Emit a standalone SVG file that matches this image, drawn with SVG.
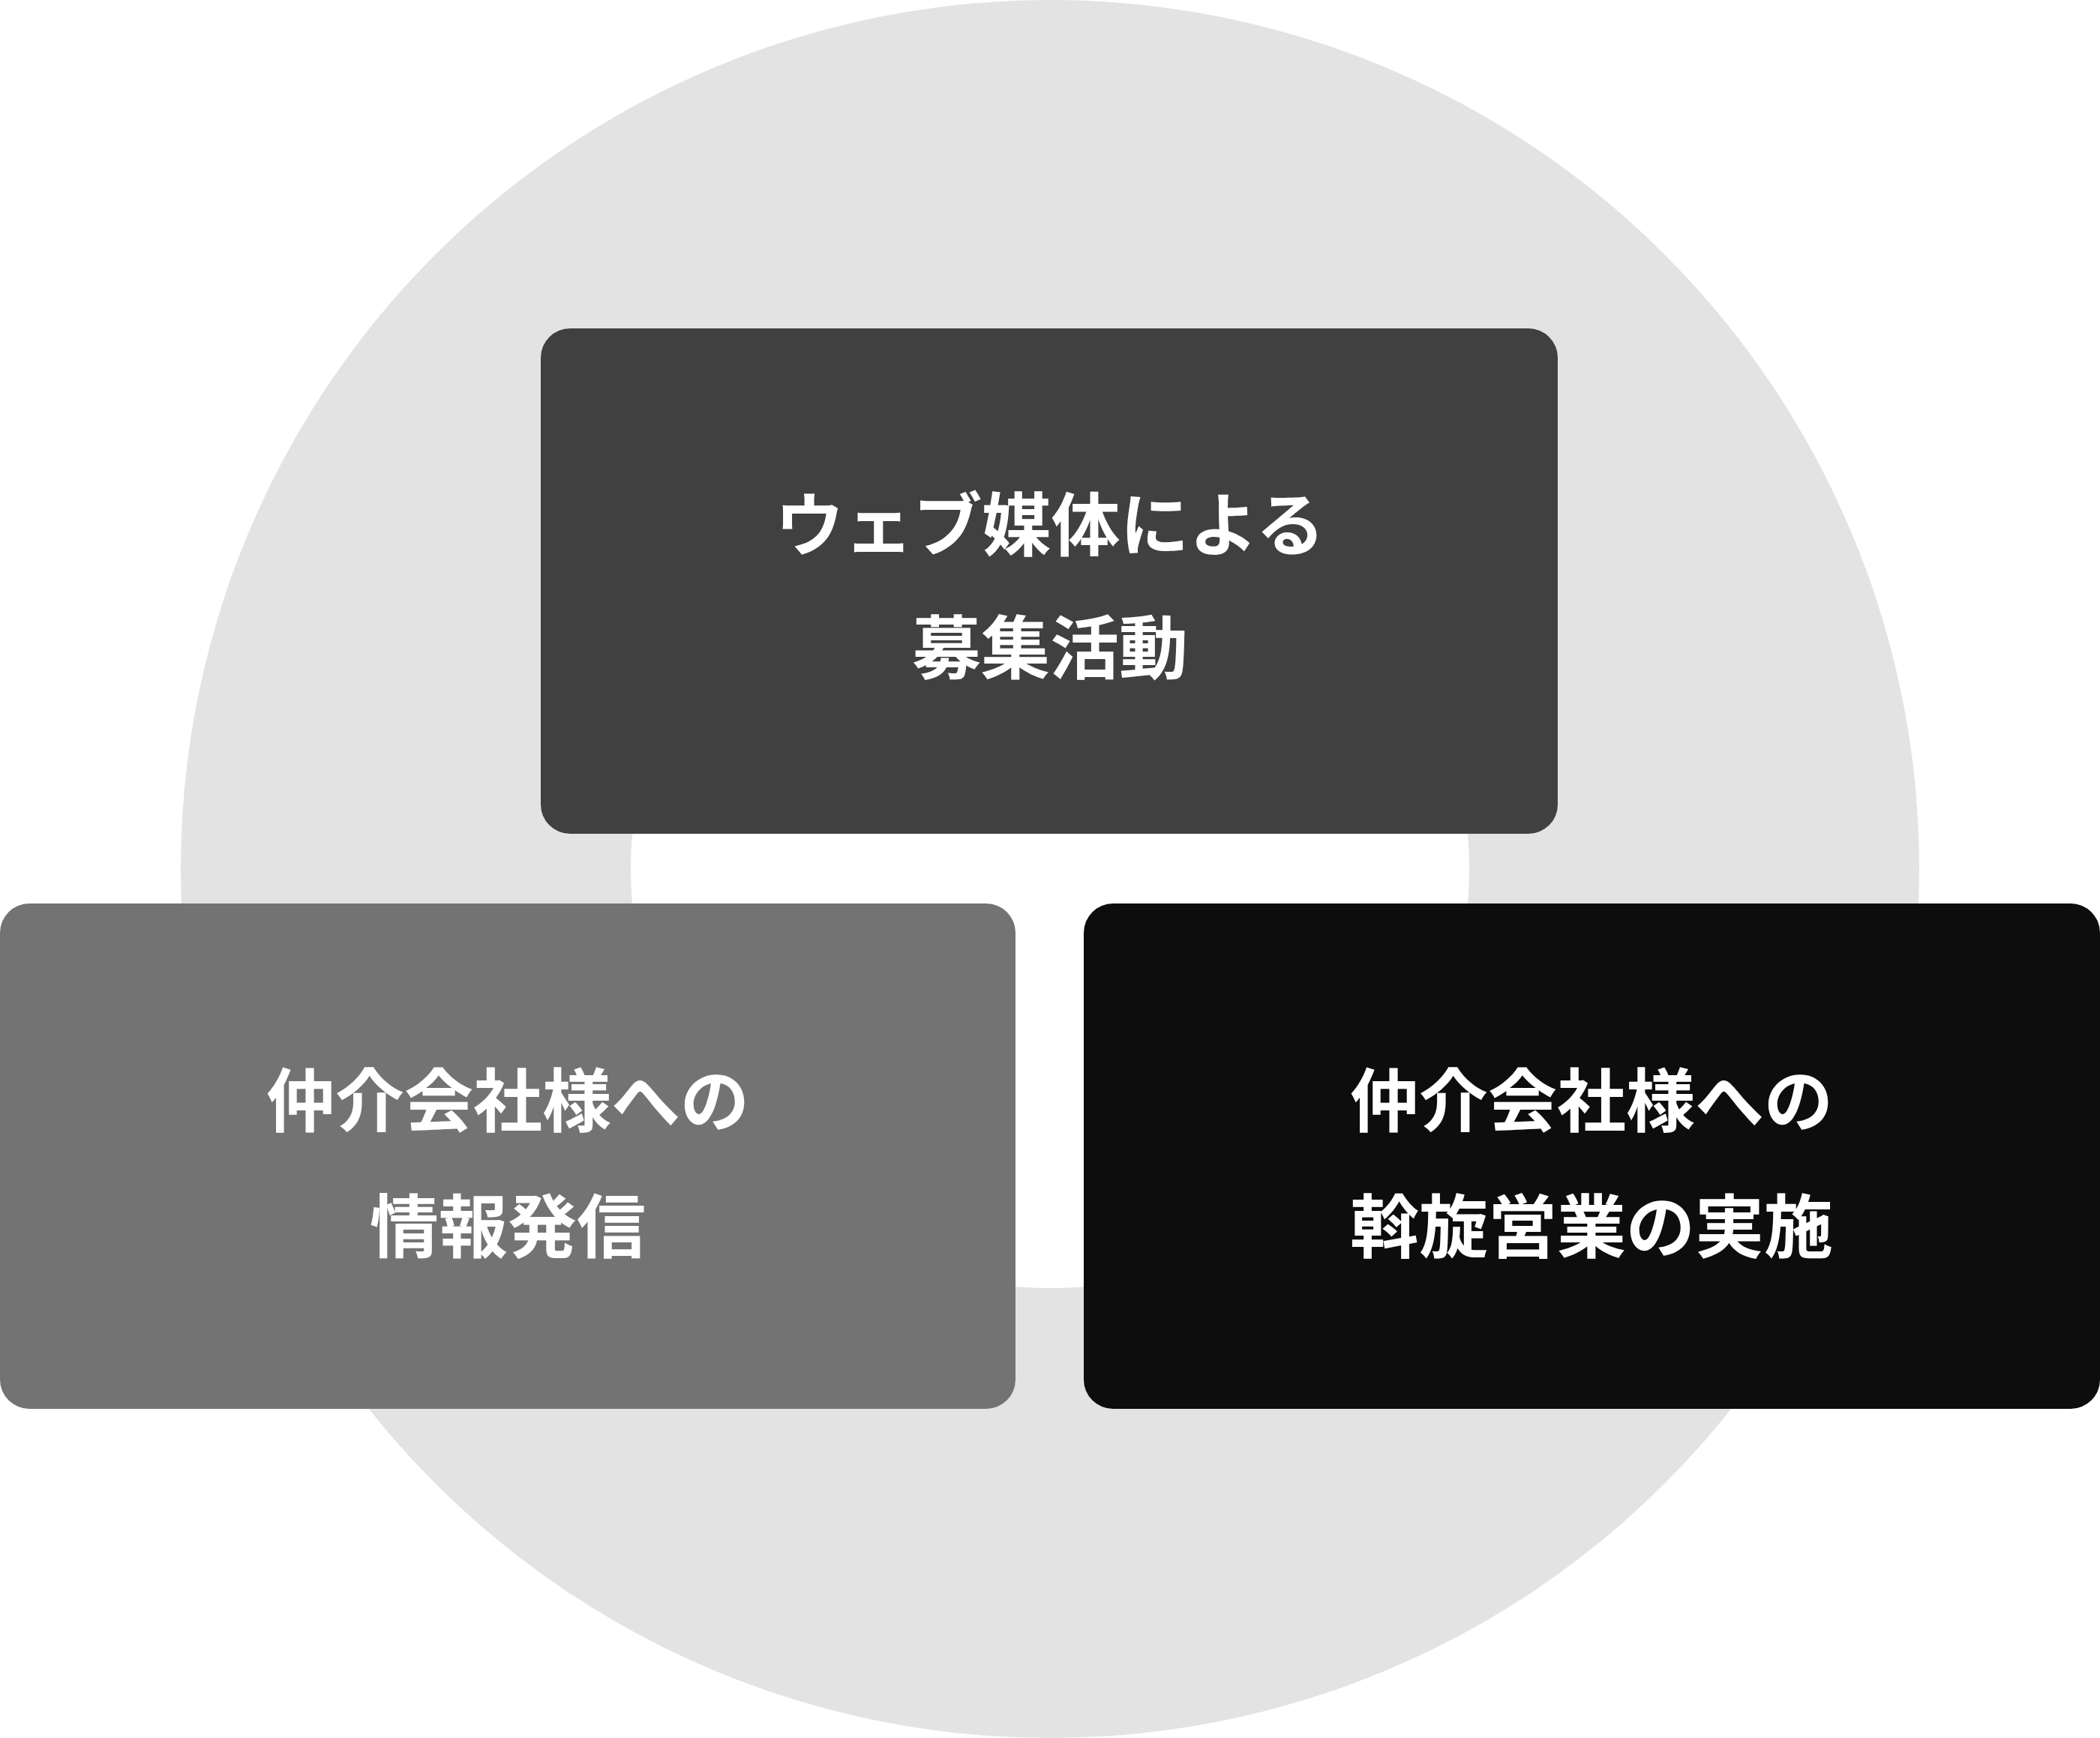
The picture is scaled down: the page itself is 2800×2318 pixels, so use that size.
<svg xmlns="http://www.w3.org/2000/svg" width="2800" height="2318" viewBox="0 0 2800 2318">
<style>
.t{font-family:"Noto Sans CJK JP","Noto Sans CJK SC",sans-serif;font-weight:bold;font-size:92px;fill:#fff;text-anchor:middle;dominant-baseline:central}
</style>
<rect width="2800" height="2318" fill="#fff"/>
<path d="M1400,0 a1159,1159 0 1,0 0.01,0 Z M1400,600 a559,559 0 1,1 -0.01,0 Z" fill="#e3e3e3" fill-rule="evenodd"/>
<g id="top"><rect x="721" y="438" width="1356" height="674" rx="39" fill="#404040"/>
<text class="t" x="1400" y="693">ウェブ媒体による</text><text class="t" x="1400" y="857">募集活動</text></g>
<g id="left"><rect x="0" y="1205" width="1354" height="674" rx="39" fill="#737373"/>
<text class="t" x="677" y="1461">仲介会社様への</text><text class="t" x="677" y="1629">情報発信</text></g>
<g id="right"><rect x="1445" y="1205" width="1355" height="674" rx="39" fill="#0d0d0d"/>
<text class="t" x="2122" y="1461">仲介会社様への</text><text class="t" x="2122" y="1629">斡旋営業の実施</text></g>
<g id="connectors"/>
</svg>
